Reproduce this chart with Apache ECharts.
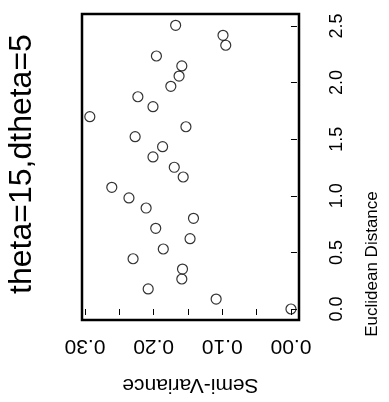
<!DOCTYPE html>
<html>
<head>
<meta charset="utf-8">
<script src="https://cdn.jsdelivr.net/npm/echarts@6/dist/echarts.min.js"></script>
<style>
html,body{margin:0;padding:0;background:#fff;}
#chart{width:389px;height:402px;}
</style>
</head>
<body>
<div id="chart"></div>
<script>
const titleText = 'theta=15,dtheta=5';
const distanceName = 'Euclidean Distance';
const varianceName = 'Semi-Variance';

const distance = [2.506, 2.418, 2.330, 2.235, 2.147, 2.058, 1.967, 1.875, 1.787, 1.699,
  1.610, 1.522, 1.434, 1.343, 1.252, 1.166, 1.075, 0.981, 0.892, 0.801,
  0.713, 0.621, 0.530, 0.444, 0.353, 0.265, 0.177, 0.088, 0.000];
const semiVariance = [0.168, 0.099, 0.095, 0.196, 0.159, 0.163, 0.175, 0.223, 0.201, 0.293,
  0.153, 0.227, 0.187, 0.201, 0.170, 0.157, 0.261, 0.236, 0.211, 0.142,
  0.197, 0.147, 0.186, 0.230, 0.158, 0.159, 0.208, 0.109, 0.000];

const distanceTicks = [0, 0.5, 1.0, 1.5, 2.0, 2.5];
const varianceLabels = [0, 0.10, 0.20, 0.30];
const varianceTicks = [0, 0.05, 0.10, 0.15, 0.20, 0.25, 0.30];

const points = distance.map((d, i) => [semiVariance[i], d]);
const font = '"Liberation Sans", Arial, sans-serif';

const chart = echarts.init(document.getElementById('chart'), null, {renderer: 'canvas'});
chart.setOption({
  animation: false,
  backgroundColor: '#fff',
  grid: {left: 82, right: 90, top: 14, bottom: 82, show: true, borderColor: '#000', borderWidth: 2.5, backgroundColor: 'transparent'},
  xAxis: {
    type: 'value', inverse: true, min: -0.0117, max: 0.3044, position: 'bottom',
    name: varianceName, nameLocation: 'middle', nameRotate: 180, nameGap: 54,
    nameTextStyle: {fontSize: 21, color: '#000', fontFamily: font},
    axisLine: {show: false},
    axisTick: {show: true, length: 6, customValues: varianceTicks, lineStyle: {color: '#000', width: 1}},
    axisLabel: {rotate: 180, fontSize: 21, color: '#000', fontFamily: font, margin: 15,
      customValues: varianceLabels, formatter: v => v.toFixed(2)},
    splitLine: {show: false}
  },
  yAxis: {
    type: 'value', min: -0.0972, max: 2.606, position: 'right',
    axisLine: {show: false},
    axisTick: {show: true, length: 6, customValues: distanceTicks, lineStyle: {color: '#000', width: 1}},
    axisLabel: {rotate: 90, fontSize: 18, color: '#000', fontFamily: font, margin: 29,
      customValues: distanceTicks, formatter: v => v.toFixed(1)},
    splitLine: {show: false}
  },
  graphic: [{
    type: 'text', x: 22, y: 164, rotation: Math.PI / 2,
    style: {text: titleText, fontSize: 32, fontFamily: font, fill: '#000', align: 'center', verticalAlign: 'middle'}
  }, {
    type: 'text', x: 372, y: 264, rotation: Math.PI / 2,
    style: {text: distanceName, fontSize: 17, fontFamily: font, fill: '#000', align: 'center', verticalAlign: 'middle'}
  }],
  series: [{
    type: 'scatter', data: points, symbol: 'circle', symbolSize: 10,
    itemStyle: {color: 'transparent', borderColor: '#000', borderWidth: 1.2}
  }]
});
</script>
</body>
</html>
